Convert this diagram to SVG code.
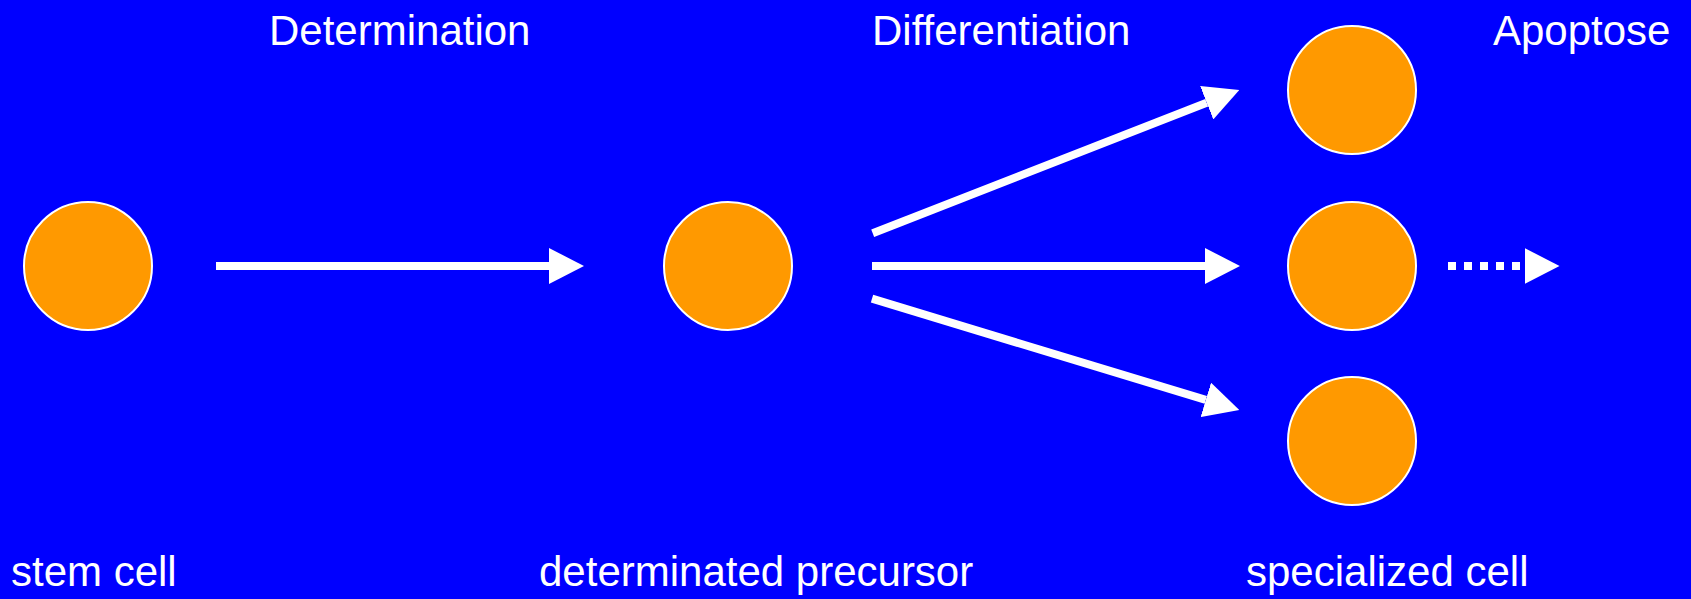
<svg xmlns="http://www.w3.org/2000/svg" width="1691" height="599" viewBox="0 0 1691 599">
<style>
.bg{fill:#0000FF}
.cell{fill:#FF9900;stroke:#FFFFFF;stroke-width:2}
.lbl{font-family:"Liberation Sans",Arial,sans-serif;font-size:42px;fill:#FFFFFF}
.conn{stroke:#FFFFFF;stroke-width:8;fill:none;marker-end:url(#head)}
.dot{stroke-dasharray:8 8}
</style>
<defs>
<marker id="head" markerUnits="userSpaceOnUse" viewBox="0 0 35 36" markerWidth="35" markerHeight="36" refX="0" refY="18" orient="auto">
<path d="M0,0 L35,18 L0,36 Z" fill="#FFFFFF"/>
</marker>
</defs>
<rect class="bg" x="0" y="0" width="1691" height="599"/>
<g id="labels">
<text class="lbl" x="269" y="45">Determination</text>
<text class="lbl" x="872" y="45">Differentiation</text>
<text class="lbl" x="1493" y="45">Apoptose</text>
</g>
<g id="stem-cell">
<circle class="cell" cx="88" cy="266" r="64"/>
<text class="lbl" x="11" y="586">stem cell</text>
</g>
<g id="determinated-precursor">
<circle class="cell" cx="728" cy="266" r="64"/>
<text class="lbl" x="539" y="586">determinated precursor</text>
</g>
<g id="specialized-cell">
<circle class="cell" cx="1352" cy="90" r="64"/>
<circle class="cell" cx="1352" cy="266" r="64"/>
<circle class="cell" cx="1352" cy="441" r="64"/>
<text class="lbl" x="1246" y="586">specialized cell</text>
</g>
<g id="connectors">
<line class="conn" x1="216" y1="266" x2="549" y2="266"/>
<line class="conn" x1="872.7" y1="233.3" x2="1206.7" y2="102.7"/>
<line class="conn" x1="872" y1="266" x2="1205" y2="266"/>
<line class="conn" x1="872" y1="298.7" x2="1205.8" y2="399.9"/>
<line class="conn dot" x1="1448" y1="266" x2="1524.5" y2="266"/>
</g>
</svg>
